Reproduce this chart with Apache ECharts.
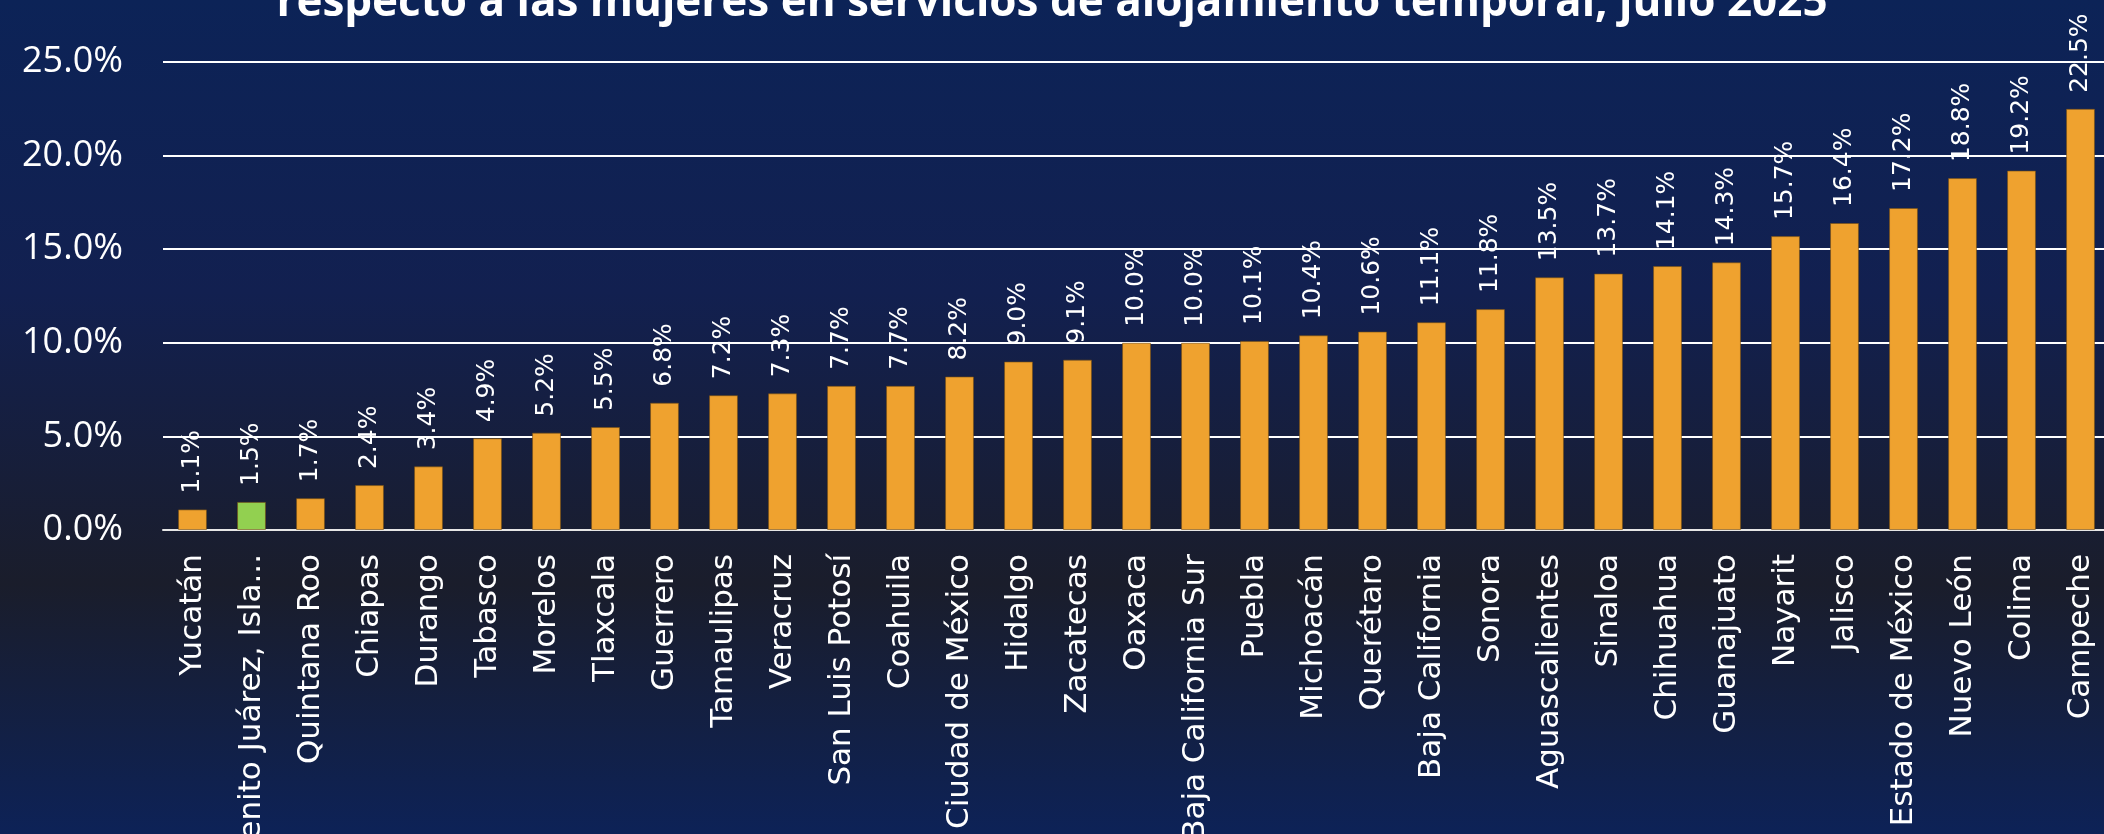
<!DOCTYPE html>
<html>
<head>
<meta charset="utf-8">
<script src="https://cdn.jsdelivr.net/npm/echarts@6/dist/echarts.min.js"></script>
<style>
html,body{margin:0;padding:0;background:#0c2357;}
#chart{width:2104px;height:834px;}
</style>
</head>
<body>
<div id="chart"></div>
<script>
const titleText = "respecto a las mujeres en servicios de alojamiento temporal, julio 2025";
const categories = ["Yucatán","Benito Juárez, Isla...","Quintana Roo","Chiapas","Durango","Tabasco","Morelos","Tlaxcala","Guerrero","Tamaulipas","Veracruz","San Luis Potosí","Coahuila","Ciudad de México","Hidalgo","Zacatecas","Oaxaca","Baja California Sur","Puebla","Michoacán","Querétaro","Baja California","Sonora","Aguascalientes","Sinaloa","Chihuahua","Guanajuato","Nayarit","Jalisco","Estado de México","Nuevo León","Colima","Campeche"];
const values = [1.1,1.5,1.7,2.4,3.4,4.9,5.2,5.5,6.8,7.2,7.3,7.7,7.7,8.2,9.0,9.1,10.0,10.0,10.1,10.4,10.6,11.1,11.8,13.5,13.7,14.1,14.3,15.7,16.4,17.2,18.8,19.2,22.5];
const highlighted = ["Benito Juárez, Isla..."];
const yTicks = [0,5,10,15,20,25];

const chart = echarts.init(document.getElementById('chart'));
chart.setOption({
  backgroundColor: new echarts.graphic.LinearGradient(0,0,0,1,[
    {offset:0,color:'#0c2357'},
    {offset:0.35,color:'#122050'},
    {offset:0.7,color:'#1a1d2b'},
    {offset:1,color:'#0d2257'}
  ]),
  animation:false,
  title:{
    text:titleText,
    left:'center',
    top:-24,
    textStyle:{color:'#ffffff',fontFamily:'Open Sans',fontWeight:'bold',fontSize:44}
  },
  grid:{left:163,right:-6,top:62,bottom:304,containLabel:false,outerBoundsMode:'none'},
  xAxis:{
    type:'category',
    data:categories,
    axisTick:{show:false},
    axisLine:{show:true,lineStyle:{color:'#e6e6e6',width:2}},
    axisLabel:{rotate:90,color:'#ffffff',fontFamily:'DejaVu Sans',fontSize:31,margin:24,interval:0}
  },
  yAxis:{
    type:'value',
    min:yTicks[0],
    max:yTicks[yTicks.length-1],
    interval:5,
    axisLine:{show:false},
    axisTick:{show:false},
    splitLine:{lineStyle:{color:'#ffffff',width:2}},
    axisLabel:{color:'#ffffff',fontFamily:'Open Sans',fontSize:36,margin:40,
      formatter:v=>v.toFixed(1)+'%'}
  },
  series:[{
    type:'bar',
    barWidth:'49%',
    data:values.map((v,i)=>({value:v,itemStyle:{color: highlighted.includes(categories[i])?'#92d050':'#efa22f'}})),
    itemStyle:{borderColor:'rgba(120,80,20,0.6)',borderWidth:1},
    label:{show:true,position:'top',rotate:90,align:'left',verticalAlign:'middle',distance:16,
      color:'#ffffff',fontFamily:'DejaVu Sans',fontSize:25,
      formatter:p=>p.value.toFixed(1)+'%'}
  }]
});
</script>
</body>
</html>
